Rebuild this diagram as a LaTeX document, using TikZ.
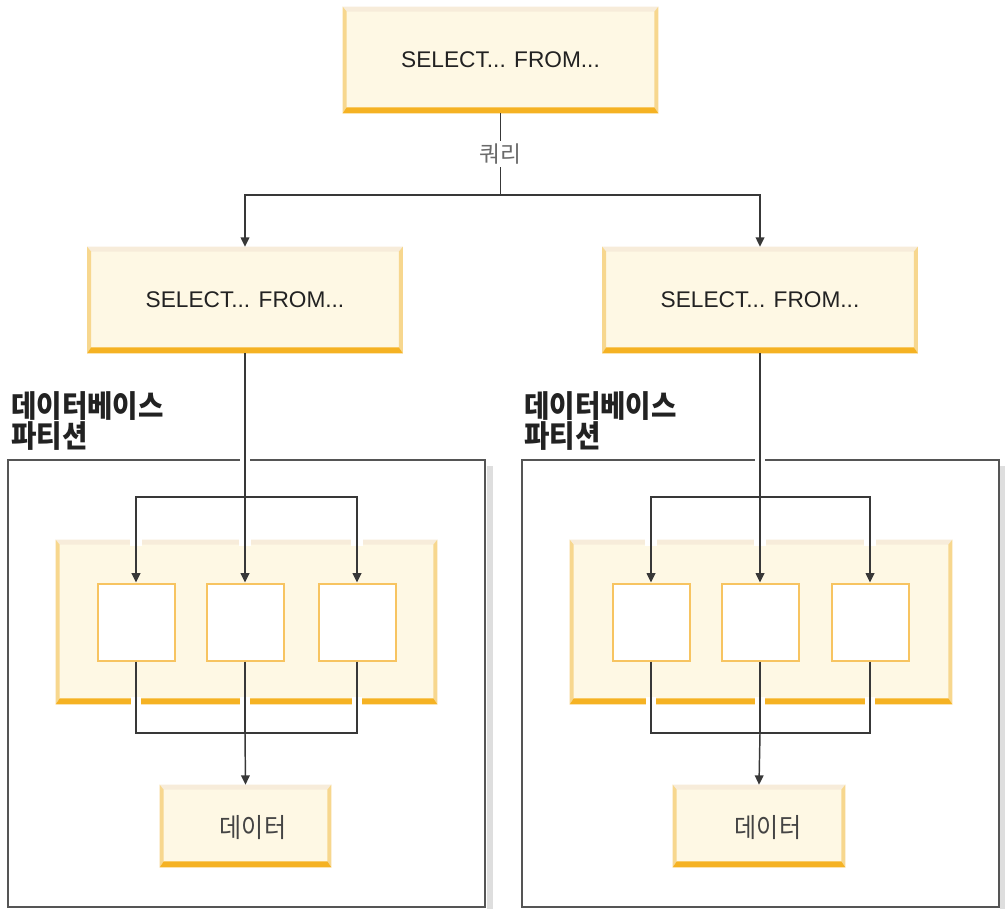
\documentclass[tikz,border=0pt]{standalone}
\usepackage{fontspec}
\setmainfont{Liberation Sans}
\newfontfamily\kr{Noto Sans CJK KR}
\newfontfamily\krn[FakeStretch=0.9]{Noto Sans CJK KR}
\usetikzlibrary{arrows.meta,calc}
\definecolor{fillc}{HTML}{FEF8E4}
\definecolor{bevtop}{HTML}{F7ECDA}
\definecolor{bevside}{HTML}{F7D78E}
\definecolor{bevbot}{HTML}{F5B223}
\definecolor{smallc}{HTML}{F7C461}
\definecolor{linec}{HTML}{383838}
\definecolor{partc}{HTML}{555555}
\definecolor{shadc}{HTML}{DEDEDE}
\definecolor{txtc}{HTML}{222222}
\definecolor{krc}{HTML}{444444}
\definecolor{qc}{HTML}{6A6A6A}
\newcommand\bevelbox[1]{%
 \fill[bevtop] (#1.north west) -- (#1.north east) -- ($(#1.north east)+(-4,5)$) -- ($(#1.north west)+(4,5)$) -- cycle;
 \fill[bevside] (#1.north west) -- ($(#1.north west)+(4,5)$) -- ($(#1.south west)+(4,-6)$) -- (#1.south west) -- cycle;
 \fill[bevside] (#1.north east) -- ($(#1.north east)+(-4,5)$) -- ($(#1.south east)+(-4,-6)$) -- (#1.south east) -- cycle;
 \fill[bevbot] (#1.south west) -- (#1.south east) -- ($(#1.south east)+(-4,-6)$) -- ($(#1.south west)+(4,-6)$) -- cycle;
}
\newcommand\gapat[2]{\fill[white] ($(#1)+(-#2,-4)$) rectangle ($(#1)+(#2,4)$);}
\begin{document}
\begin{tikzpicture}[x=0.75pt,y=-0.75pt,
  ybox/.style={rectangle,fill=fillc,inner sep=0pt,text=txtc,font=\fontsize{17}{20}\selectfont},
  sbox/.style={rectangle,fill=white,draw=smallc,line width=1.5pt,inner sep=0pt,minimum width=77*0.75pt,minimum height=77*0.75pt},
  pbox/.style={rectangle,fill=white,draw=partc,line width=1.5pt,inner sep=0pt,minimum width=477*0.75pt,minimum height=447*0.75pt},
  conn/.style={draw=linec,line width=1.1pt},
  arr/.style={conn,-{Triangle[width=6.5pt,length=7pt]}},
  plabel/.style={anchor=north west,align=left,inner sep=0pt,text=txtc,font=\krn\bfseries\fontsize{23}{20.5}\selectfont},
  dtext/.style={text=krc,font=\krn\fontsize{20}{22}\selectfont}]
\useasboundingbox (0,0) rectangle (1005,909);
% partitions
\fill[shadc] (487,466) rectangle (493,909);
\fill[shadc] (1000,466) rectangle (1005,909);
\node[pbox] (partL) at (246.5,683) {};
\node[pbox] (partR) at (760,683) {};
\node[plabel] (labL) at (11,391) {데이터베이스\\파티션};
\node[plabel] (labR) at (524,391) {데이터베이스\\파티션};
% inner yellow boxes
\node[ybox,minimum width=381*0.75pt,minimum height=164*0.75pt] (inL) at (246.5,622) {};
\bevelbox{inL}
\node[ybox,minimum width=382*0.75pt,minimum height=164*0.75pt] (inR) at (761,622) {};
\bevelbox{inR}
\node[sbox] (sL1) at (136,622) {};
\node[sbox] (sL2) at (245,622) {};
\node[sbox] (sL3) at (357,622) {};
\node[sbox] (sR1) at (651,622) {};
\node[sbox] (sR2) at (760,622) {};
\node[sbox] (sR3) at (870,622) {};
% select boxes
\node[ybox,minimum width=315*0.75pt,minimum height=106*0.75pt] (top) at (500.5,60) {SELECT... FROM...};
\bevelbox{top}
\node[ybox,minimum width=315*0.75pt,minimum height=106*0.75pt] (midL) at (245,300) {SELECT... FROM...};
\bevelbox{midL}
\node[ybox,minimum width=315*0.75pt,minimum height=106*0.75pt] (midR) at (760,300) {SELECT... FROM...};
\bevelbox{midR}
% data boxes
\node[ybox,minimum width=171*0.75pt,minimum height=82*0.75pt] (dataL) at (245.5,826) {};
\bevelbox{dataL}
\node[ybox,minimum width=172*0.75pt,minimum height=82*0.75pt] (dataR) at (759,826) {};
\bevelbox{dataR}
\node[dtext] (dtL) at (253,828) {데이터};
\node[dtext] (dtR) at (768,828) {데이터};
% gaps where connectors cross edges
\coordinate (q) at (500.5,195);
\coordinate (bL) at (245,497);
\coordinate (bR) at (760,497);
\coordinate (mL) at (245,733);
\coordinate (mR) at (760,733);
\gapat{245,459}{5}
\gapat{760,459}{5}
\foreach \xx in {136,245,357,651,760,870}{
  \gapat{\xx,542}{6}
  \gapat{\xx,701}{5}
}
% connectors
\draw[conn] (top.south) -- node[fill=white,inner sep=2pt,text=qc,font=\kr\fontsize{17}{19}\selectfont] (qlab) {쿼리} (q);
\draw[arr] (q) -| (midL.north);
\draw[arr] (q) -| (midR.north);
\draw[arr] (midL.south) -- (sL2.north);
\draw[arr] (midR.south) -- (sR2.north);
\draw[arr] (bL) -| (sL1.north);
\draw[arr] (bL) -| (sL3.north);
\draw[arr] (bR) -| (sR1.north);
\draw[arr] (bR) -| (sR3.north);
\draw[conn] (sL1.south) |- (mL);
\draw[conn] (sL3.south) |- (mL);
\draw[conn] (sL2.south) -- (mL);
\draw[arr] (mL) -- (dataL.north);
\draw[conn] (sR1.south) |- (mR);
\draw[conn] (sR3.south) |- (mR);
\draw[conn] (sR2.south) -- (mR);
\draw[arr] (mR) -- (dataR.north);
\end{tikzpicture}
\end{document}
